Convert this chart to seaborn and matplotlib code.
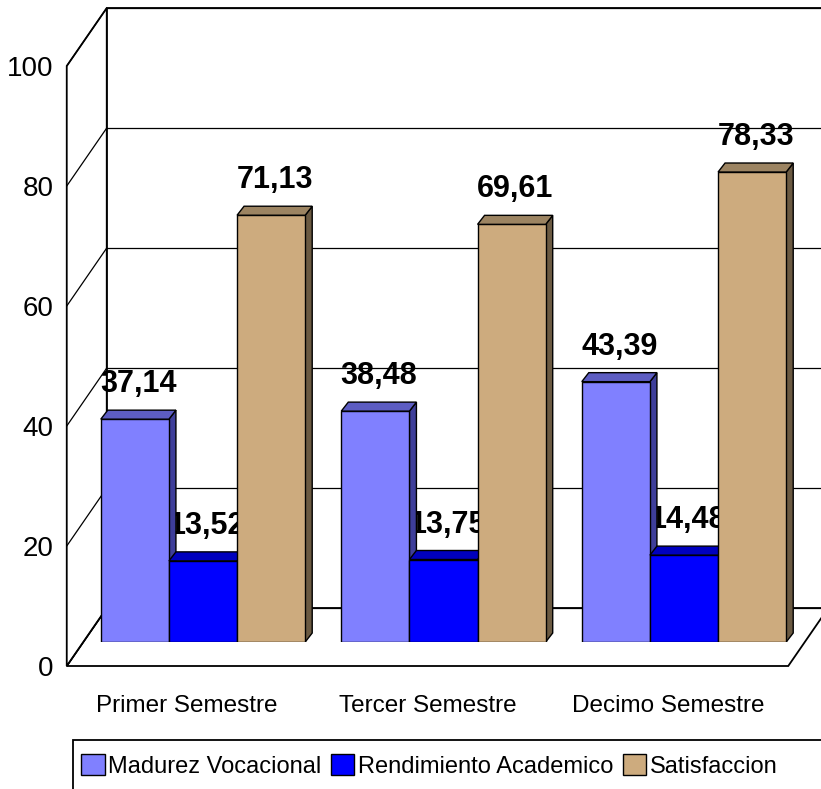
import numpy as np
import pandas as pd
import matplotlib.pyplot as plt
import matplotlib.transforms as mtransforms
from matplotlib.patches import Polygon, Patch, Rectangle
import seaborn as sns

# Data
semestres = ["Primer Semestre", "Tercer Semestre", "Decimo Semestre"]
series = ["Madurez Vocacional", "Rendimiento Academico", "Satisfaccion"]
madurez = [37.14, 38.48, 43.39]
rendimiento = [13.52, 13.75, 14.48]
satisfaccion = [71.13, 69.61, 78.33]
yticks = [0, 20, 40, 60, 80, 100]

colores = ["#8080FF", "#0000FF", "#CDAB7E"]
colores_top = ["#5D5DC2", "#0000BE", "#9C8462"]
colores_lado = ["#3E3E9A", "#00007E", "#6B5A42"]

df = pd.DataFrame({
    "semestre": semestres * 3,
    "serie": [s for s in series for _ in semestres],
    "valor": madurez + rendimiento + satisfaccion,
})

sns.set_style("white")
plt.rcParams["font.family"] = ["Liberation Sans", "DejaVu Sans"]
plt.rcParams["text.color"] = "black"

W, H = 821, 789
fig = plt.figure(figsize=(W / 100, H / 100), dpi=100)
ax = fig.add_axes([82.75 / W, 147 / H, 721.5 / W, 600 / H])

sns.barplot(data=df, x="semestre", y="valor", hue="serie", palette=colores,
            width=0.85, saturation=1, edgecolor="black", linewidth=1,
            legend=False, ax=ax)
ax.set_xlim(-0.5, 2.5)
ax.set_ylim(0, 100)
ax.axis("off")


def desp(dx_px, dy_px):
    # pixel offset -> data offset
    p0 = ax.transData.transform((0, 0))
    return ax.transData.inverted().transform(p0 + np.array([dx_px, dy_px]))


fx, fy = desp(-16, -24)   # front plane
bx, by = desp(24, 34)     # back wall
dx, dy = desp(7, 9)       # bar depth

x0, x1 = -0.5, 2.5
kw = dict(closed=True, facecolor="white", edgecolor="black", lw=1.3,
          clip_on=False, zorder=0.5)
# floor
ax.add_patch(Polygon([(x0 + fx, fy), (x1 + fx, fy), (x1 + bx, by), (x0 + bx, by)], **kw))
# left wall
ax.add_patch(Polygon([(x0 + fx, fy), (x0 + fx, 100 + fy), (x0 + bx, 100 + by), (x0 + bx, by)], **kw))
# back wall
ax.add_patch(Polygon([(x0 + bx, by), (x1 + bx, by), (x1 + bx, 100 + by), (x0 + bx, 100 + by)], **kw))

for t in yticks:
    ax.plot([x0 + bx, x1 + bx], [t + by, t + by], color="black", lw=0.9,
            clip_on=False, zorder=0.6)
    ax.plot([x0 + fx, x0 + bx], [t + fy, t + by], color="black", lw=0.9,
            clip_on=False, zorder=0.6)
    ax.text(x0 + fx, t + fy, str(t), transform=mtransforms.offset_copy(
        ax.transData, fig=fig, x=-13, y=-3, units="dots"),
        ha="right", va="center", fontsize=20, clip_on=False)

for i, s in enumerate(semestres):
    ax.text(i + fx, fy, s, transform=mtransforms.offset_copy(
        ax.transData, fig=fig, x=0, y=-40, units="dots"),
        ha="center", va="center", fontsize=17.5)

# 3D faces on bars, left to right
barras = sorted(ax.patches[:9], key=lambda p: p.get_x())
for k, p in enumerate(barras):
    serie_idx = [c for c in range(3) if np.allclose(p.get_facecolor()[:3],
                 plt.matplotlib.colors.to_rgb(colores[c]), atol=0.02)][0]
    x, w, h = p.get_x(), p.get_width(), p.get_height()
    z = 3 + k * 0.1
    p.set_zorder(z)
    ax.add_patch(Polygon([(x, h), (x + w, h), (x + w + dx, h + dy), (x + dx, h + dy)],
                         closed=True, facecolor=colores_top[serie_idx],
                         edgecolor="black", lw=1, zorder=z))
    ax.add_patch(Polygon([(x + w, 0), (x + w + dx, dy), (x + w + dx, h + dy), (x + w, h)],
                         closed=True, facecolor=colores_lado[serie_idx],
                         edgecolor="black", lw=1, zorder=z - 0.01))
    ax.text(x + w / 2 + dx / 2, h, f"{h:.2f}".replace(".", ","),
            transform=mtransforms.offset_copy(ax.transData, fig=fig, x=0, y=35, units="dots"),
            ha="center", va="center", fontsize=22, fontweight="bold", zorder=2.5)

# legend (frame runs off the right and bottom edges like the original)
handles = [Patch(facecolor=c, edgecolor="black", label=s) for c, s in zip(colores, series)]
leg = fig.legend(handles=handles, loc="center left", bbox_to_anchor=(81 / W, 1 - 766 / H),
                 ncol=3, frameon=False, fontsize=17, handlelength=1.0,
                 handleheight=1.0, handletextpad=0.15, columnspacing=0.4,
                 borderpad=0, borderaxespad=0)
fig.add_artist(Rectangle((73 / W, -0.05), 1.0, 1 - 740 / H + 0.05, transform=fig.transFigure,
                         facecolor="none", edgecolor="black", lw=1.3))

fig.savefig("out.png", dpi=100)
